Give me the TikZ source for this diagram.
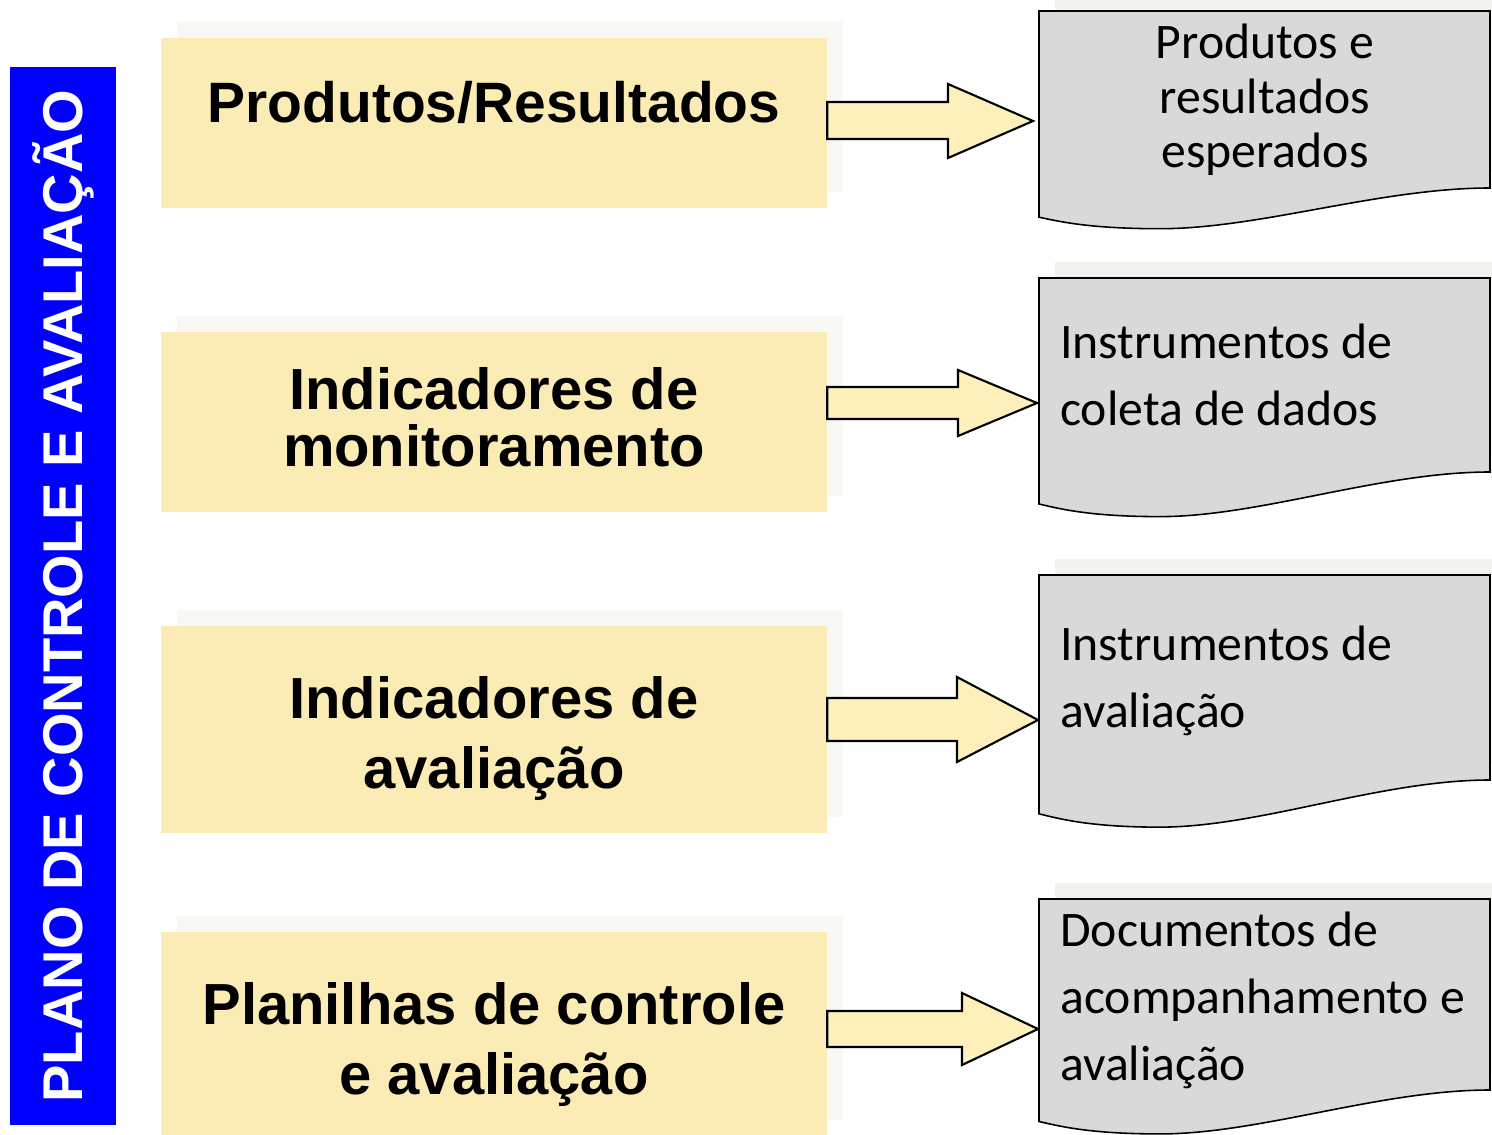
\documentclass[tikz,border=0pt]{standalone}
\usepackage{fontspec}
\setmainfont{Liberation Sans}
\newfontfamily\docfont{Carlito}
\usetikzlibrary{positioning,calc,shadows}
\definecolor{plano-blue}{HTML}{0000FF}
\definecolor{box-yellow}{HTML}{FBEBB5}
\definecolor{box-shadow}{HTML}{F8F8F5}
\definecolor{arrow-yellow}{HTML}{FEF0BB}
\definecolor{doc-gray}{HTML}{D9D9D9}
\definecolor{doc-shadow}{HTML}{F2F2EE}
\tikzset{
  ybox/.style={fill=box-yellow, minimum width=13.32cm, inner sep=0,
    general shadow={shadow xshift=0.32cm, shadow yshift=0.32cm, fill=box-shadow}},
  ytext/.style={font=\bfseries\fontsize{33}{32}\selectfont, align=center, anchor=base, inner sep=0},
  blockarrow/.style={fill=arrow-yellow, draw=black, line width=1.2pt, line join=miter},
  doc/.style={fill=doc-gray, draw=black, line width=0.9pt},
  dtext/.style={font=\docfont\fontsize{28.3}{38}\selectfont, anchor=base, inner sep=0},
}
% document outline, bottom wave, height 100
\newcommand{\docpath}{(1039,0) -- (1490,0) -- (1490,100) .. controls (1380,100) and (1260,123) .. (1160,123) .. controls (1090,123) and (1060,119) .. (1039,116.5) -- cycle}
\newcommand{\docshape}[2]{%
  \begin{scope}[shift={(16,#1-16)}, yscale=#2]
    \fill[doc-shadow] \docpath;
  \end{scope}
  \begin{scope}[shift={(0,#1)}, yscale=#2]
    \filldraw[doc] \docpath;
  \end{scope}}

\begin{document}
\begin{tikzpicture}[x=0.02cm, y=-0.02cm]
    \useasboundingbox (0,0) rectangle (1492,1135);

    % left bar
    \node[fill=plano-blue, rotate=90, minimum width=21.16cm, minimum height=2.12cm, inner sep=0,
          text=white, font=\bfseries\fontsize{31.9}{32}\selectfont] (plano) at (63,596) {PLANO DE CONTROLE E AVALIAÇÃO};

    % yellow boxes
    \node[ybox, minimum height=3.4cm] (b1) at (494,123) {};
    \node[ybox, minimum height=3.6cm] (b2) at (494,422) {};
    \node[ybox, minimum height=4.14cm] (b3) at (494,729.5) {};
    \node[ybox, minimum height=4.08cm] (b4) at (494,1034) {};

    % base anchor = last line
    \node[ytext, font=\bfseries\fontsize{32.4}{32}\selectfont] (t1) at (494,123) {Produtos/Resultados};
    \node[ytext] (t2) at (494,466) {Indicadores de\\monitoramento};
    \node[ytext, font=\bfseries\fontsize{33}{39.8}\selectfont] (t3) at (494,788) {Indicadores de\\avaliação};
    \node[ytext, font=\bfseries\fontsize{33}{39.8}\selectfont] (t4) at (494,1094) {Planilhas de controle\\e avaliação};

    % documents
    \docshape{11}{1.77}
    \docshape{278}{1.94}
    \docshape{575}{2.05}
    \docshape{899}{1.91}

    \node[dtext, align=center, font=\docfont\fontsize{28.3}{31.3}\selectfont] (d1) at (1265,168) {Produtos e\\resultados\\esperados};
    \node[dtext, align=left, anchor=base west] (d2) at (1060,425) {Instrumentos de\\coleta de dados};
    \node[dtext, align=left, anchor=base west] (d3) at (1060,727) {Instrumentos de\\avaliação};
    \node[dtext, align=left, anchor=base west] (d4) at (1060,1080) {Documentos de\\acompanhamento e\\avaliação};

    % arrow tips
    \coordinate (p1) at (1033,121);
    \coordinate (p2) at (1037,403);
    \coordinate (p3) at (1038,720);
    \coordinate (p4) at (1038,1029);

    \draw[blockarrow] (b1.east |- 0,102) -- (948,102) -- (948,84) -- (p1) -- (948,158) -- (948,139) -- (b1.east |- 0,139) -- cycle;
    \draw[blockarrow] (b2.east |- 0,387) -- (958,387) -- (958,370) -- (p2) -- (958,436) -- (958,419) -- (b2.east |- 0,419) -- cycle;
    \draw[blockarrow] (b3.east |- 0,698) -- (957,698) -- (957,677) -- (p3) -- (957,762) -- (957,741) -- (b3.east |- 0,741) -- cycle;
    \draw[blockarrow] (b4.east |- 0,1011) -- (962,1011) -- (962,993) -- (p4) -- (962,1065) -- (962,1047) -- (b4.east |- 0,1047) -- cycle;
\end{tikzpicture}
\end{document}
